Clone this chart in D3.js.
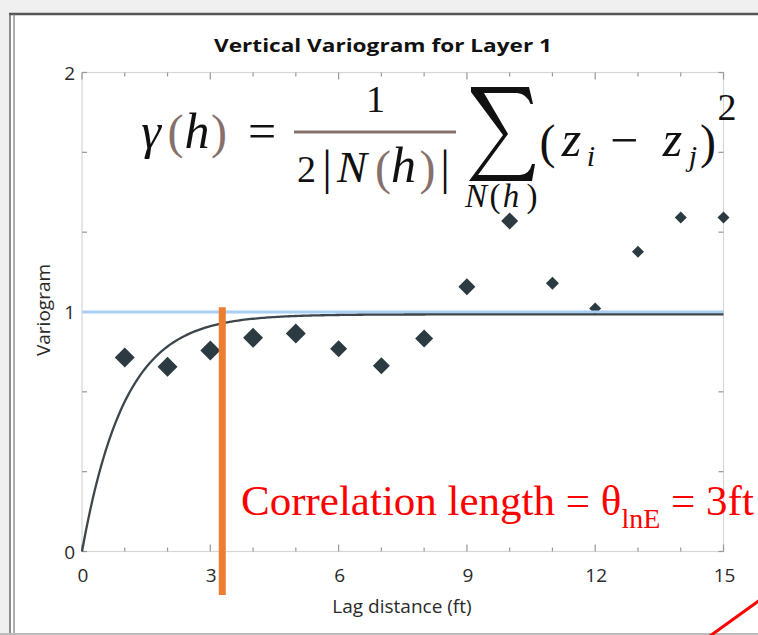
<!DOCTYPE html>
<html><head><meta charset="utf-8">
<script src="https://cdn.jsdelivr.net/npm/d3@7/dist/d3.min.js"></script>
<style>html,body{margin:0;padding:0;background:#fff;}svg{display:block;}</style>
</head><body>
<script>
// ---- data ----
const lags = [1,2,3,4,5,6,7,8,9,10,11,12,13,14,15];
const variogram = [0.81,0.771,0.839,0.892,0.91,0.847,0.776,0.889,1.105,1.38,1.12,1.015,1.252,1.395,1.395];
const xTickLabels = [0,3,6,9,12,15];
const yTickLabels = [0,1,2];
const sillLine = 1;
const modelSill = 0.99;
const modelPracticalRange = 3; // exponential model
const corrLengthMarker = 3.28;  // orange marker position (ft)
const markerWidth = [20,20,20,20,20,17,17,18,17,17,13,12,12,12,12]; // style

const W = 758, H = 635;
const svg = d3.select("body").append("svg").attr("width", W).attr("height", H);

// window chrome
svg.append("rect").attr("x",0).attr("y",0).attr("width",W).attr("height",H).attr("fill","#fff");
svg.append("rect").attr("x",0).attr("y",0).attr("width",W).attr("height",13).attr("fill","#f0f0f0");
svg.append("rect").attr("x",0).attr("y",0).attr("width",9).attr("height",H).attr("fill","#f0f0f0");
svg.append("line").attr("x1",9).attr("x2",W).attr("y1",14).attr("y2",14).attr("stroke","#555").attr("stroke-width",2.5);
svg.append("line").attr("x1",10).attr("x2",10).attr("y1",14).attr("y2",H).attr("stroke","#666").attr("stroke-width",1.5);
svg.append("line").attr("x1",14).attr("x2",14).attr("y1",14).attr("y2",H).attr("stroke","#777").attr("stroke-width",1.2);
svg.append("rect").attr("x",0).attr("y",633).attr("width",W).attr("height",2).attr("fill","#bbb");

const x = d3.scaleLinear().domain([0,15]).range([82,723.5]);
const y = d3.scaleLinear().domain([0,2]).range([551.5,72.5]);

const uiFont = "'Open Sans', 'Noto Sans', sans-serif";

// title
svg.append("text").attr("x",383).attr("y",52).attr("text-anchor","middle")
  .attr("font-family",uiFont).attr("font-weight","bold").attr("font-size",18.5)
  .attr("textLength",338).attr("lengthAdjust","spacingAndGlyphs")
  .attr("fill","#111").text("Vertical Variogram for Layer 1");

// plot border
svg.append("rect").attr("x",x(0)).attr("y",y(2)).attr("width",x(15)-x(0)).attr("height",y(0)-y(2))
  .attr("fill","none").attr("stroke","#d6d6d6").attr("stroke-width",1.2);

// ticks
const g = svg.append("g");
d3.range(0,16).forEach(v=>{
  const len = v%3===0 ? 7 : 4;
  g.append("line").attr("x1",x(v)).attr("x2",x(v)).attr("y1",y(0)).attr("y2",y(0)-len).attr("stroke","#999").attr("stroke-width",1.2);
  g.append("line").attr("x1",x(v)).attr("x2",x(v)).attr("y1",y(2)).attr("y2",y(2)+len).attr("stroke","#999").attr("stroke-width",1.2);
});
d3.range(0,7).forEach(i=>{
  const v = i/3;
  g.append("line").attr("x1",x(0)).attr("x2",x(0)+5).attr("y1",y(v)).attr("y2",y(v)).attr("stroke","#999").attr("stroke-width",1.2);
  g.append("line").attr("x1",x(15)).attr("x2",x(15)-5).attr("y1",y(v)).attr("y2",y(v)).attr("stroke","#999").attr("stroke-width",1.2);
});

// tick labels
svg.selectAll(".xl").data(xTickLabels).enter().append("text")
  .attr("x",d=>x(d)+1).attr("y",582).attr("text-anchor","middle")
  .attr("font-family",uiFont).attr("font-size",19).attr("fill","#2a2a2a").text(d=>d);
svg.selectAll(".yl").data(yTickLabels).enter().append("text")
  .attr("x",75).attr("y",d=>y(d)+7).attr("text-anchor","end")
  .attr("font-family",uiFont).attr("font-size",19).attr("fill","#2a2a2a").text(d=>d);

// axis titles
svg.append("text").attr("x",402).attr("y",613).attr("text-anchor","middle")
  .attr("font-family",uiFont).attr("font-size",19).attr("fill","#2a2a2a").text("Lag distance (ft)");
svg.append("text").attr("transform","translate(50,310) rotate(-90)").attr("text-anchor","middle")
  .attr("font-family",uiFont).attr("font-size",19).attr("fill","#2a2a2a").text("Variogram");

// data diamonds
svg.selectAll(".pt").data(lags).enter().append("path")
  .attr("d",(d,i)=>{const r = markerWidth[i]/2; return `M0,${-r}L${r},0L0,${r}L${-r},0Z`;})
  .attr("transform",(d,i)=>`translate(${x(d)},${y(variogram[i])})`)
  .attr("fill","#2c3a41");

// sill line
svg.append("line").attr("x1",x(0)).attr("x2",x(15)).attr("y1",y(sillLine)).attr("y2",y(sillLine))
  .attr("stroke","#a8d0f4").attr("stroke-width",3);

// exponential model
const hs = d3.range(0,15.0001,0.05);
const model = h => modelSill*(1-Math.exp(-3*h/modelPracticalRange));
svg.append("path").datum(hs)
  .attr("d",d3.line().x(h=>x(h)).y(h=>y(model(h))))
  .attr("fill","none").attr("stroke","#3d464c").attr("stroke-width",2.3);

// orange marker
svg.append("line").attr("x1",x(corrLengthMarker)).attr("x2",x(corrLengthMarker))
  .attr("y1",y(1.02)).attr("y2",595).attr("stroke","#ed7d31").attr("stroke-width",7);

// red annotation
const red = svg.append("text").attr("x",241).attr("y",515)
  .attr("font-family","'Liberation Serif', 'Times New Roman', serif").attr("font-size",43).attr("fill","#ff0000");
red.append("tspan").text("Correlation length = θ");
red.append("tspan").attr("font-size",28).attr("dy",13).text("lnE");
red.append("tspan").attr("dy",-13).text(" = 3ft");

// red diagonal
svg.append("line").attr("x1",710).attr("y1",636).attr("x2",760).attr("y2",600).attr("stroke","#ff0000").attr("stroke-width",3);

// formula
const mf = "'Liberation Serif', 'Times New Roman', serif";
const brown = "#85706b";
function group(pieces){
  const t = svg.append("text").attr("font-family",mf).attr("text-anchor","middle").attr("fill","#111");
  pieces.forEach(p=>{
    t.append("tspan").attr("x",p[1]).attr("y",p[2]).attr("font-size",p[3])
      .attr("font-style",p[4]?"italic":"normal").attr("fill",p[5]||"#111").text(p[0]);
  });
}
const L = 50, P = 48, D = 38;
group([["γ",151,148,L,true],["(",175.5,148,P,false,brown],["h",197,148,L,true],[")",219,148,P,false,brown],["=",262,148,L,false]]);
svg.append("line").attr("x1",294).attr("x2",456).attr("y1",132).attr("y2",132).attr("stroke",brown).attr("stroke-width",3);
group([["1",375.5,112,D,false]]);
group([["2",306.5,182,D,false],["|",327,184,P,false],["N",352,182,L*0.9,true],["(",383,184,P,false,brown],["h",403.5,182,L,true],[")",427.5,184,P,false,brown],["|",445,184,P,false]]);
// large summation sign drawn as an outline
svg.append("path")
  .attr("d","M471,87 L529,87 L533,104 L530.5,104 Q527,94 517,93 L484,93 L508,134 L478,175 L520,175 Q529,175 532,164 L535,164 L532,181 L469,181 L503,135 L471,92 Z")
  .attr("fill","#111");
group([["N",476,207,33,true],["(",495,207,33,false],["h",511,207,33,true],[")",532,207,33,false]]);
group([["(",547.5,158,P,false],["z",571.5,156,L,true],["i",591,166,30,true],["−",624,157,L,false],
       ["z",672.5,156,L,true],["j",693,166,30,true],[")",708,158,P,false],["2",727,120,D,false]]);
</script>
</body></html>
